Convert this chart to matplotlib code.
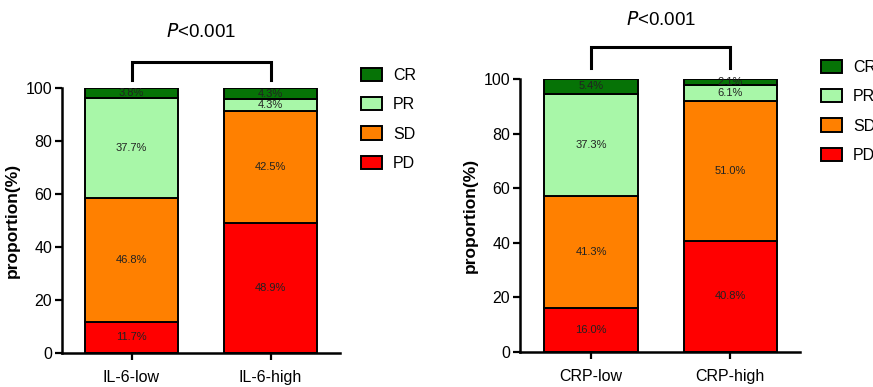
import matplotlib
matplotlib.use("Agg")
import matplotlib.pyplot as plt
import numpy as np
from matplotlib.patches import Patch

plt.rcParams['font.family'] = ['Liberation Sans', 'DejaVu Sans']

categories = ["PD", "SD", "PR", "CR"]
colors = {"PD": "#ff0000", "SD": "#ff8000", "PR": "#a8f7a8", "CR": "#067306"}

left_groups = ["IL-6-low", "IL-6-high"]
left_values = {
    "PD": [11.7, 48.9],
    "SD": [46.8, 42.5],
    "PR": [37.7, 4.3],
    "CR": [3.8, 4.3],
}
right_groups = ["CRP-low", "CRP-high"]
right_values = {
    "PD": [16.0, 40.8],
    "SD": [41.3, 51.0],
    "PR": [37.3, 6.1],
    "CR": [5.4, 2.1],
}
yticks = [0, 20, 40, 60, 80, 100]
p_text = "<0.001"

W, H = 873, 387
fig = plt.figure(figsize=(W / 100, H / 100), dpi=100)


def px_axes(x0, x1, ybot, ytop):
    return fig.add_axes([x0 / W, (H - ybot) / H, (x1 - x0) / W, (ybot - ytop) / H])


def draw(ax, groups, values, xlim, bracket_y, bracket_drop, text_y, legend_anchor):
    x = np.arange(len(groups))
    bottom = np.zeros(len(groups))
    for cat in categories:
        v = np.array(values[cat])
        ax.bar(x, v, 0.67, bottom=bottom, color=colors[cat],
               edgecolor="black", linewidth=1.4, zorder=2)
        for xi, b, vi in zip(x, bottom, v):
            ax.text(xi, b + vi / 2, f"{vi:.1f}%", ha="center", va="center",
                    fontsize=8, color="#222222", zorder=3)
        bottom = bottom + v
    ax.set_xlim(*xlim)
    ax.set_ylim(0, 100)
    ax.set_yticks(yticks)
    ax.set_xticks(x)
    ax.set_xticklabels(groups, fontsize=11.5)
    ax.tick_params(axis="y", labelsize=11.5, width=1.6, length=5, pad=2)
    ax.tick_params(axis="x", width=1.6, length=5, pad=7)
    for s in ["top", "right"]:
        ax.spines[s].set_visible(False)
    for s in ["left", "bottom"]:
        ax.spines[s].set_linewidth(1.8)
    ax.set_ylabel("proportion(%)", fontsize=12.5, fontweight="bold", labelpad=4)
    # significance bracket
    ax.plot([x[0], x[0], x[1], x[1]],
            [bracket_drop, bracket_y, bracket_y, bracket_drop],
            color="black", lw=2.2, clip_on=False, solid_joinstyle="miter")
    ax.text((x[0] + x[1]) / 2, text_y, r"$\it{P}$" + p_text, ha="center",
            va="center", fontsize=13.5, clip_on=False)
    hs = [Patch(facecolor=colors[c], edgecolor="black", linewidth=1.4)
          for c in ["CR", "PR", "SD", "PD"]]
    fig.legend(hs, ["CR", "PR", "SD", "PD"], loc="upper left",
               bbox_to_anchor=(legend_anchor[0] / W, 1 - legend_anchor[1] / H),
               frameon=False, fontsize=11.5, handlelength=1.3,
               handleheight=0.9, handletextpad=0.7, labelspacing=0.88,
               borderaxespad=0, borderpad=0)


ax1 = px_axes(62, 340, 353, 88)
draw(ax1, left_groups, left_values, (-0.5, 1.5), 109.8, 103.2, 121.0, (361, 68))

ax2 = px_axes(520, 800, 352, 79)
draw(ax2, right_groups, right_values, (-0.51, 1.5), 111.7, 104.0, 121.6, (821, 60))

fig.savefig("out.png", dpi=100)
